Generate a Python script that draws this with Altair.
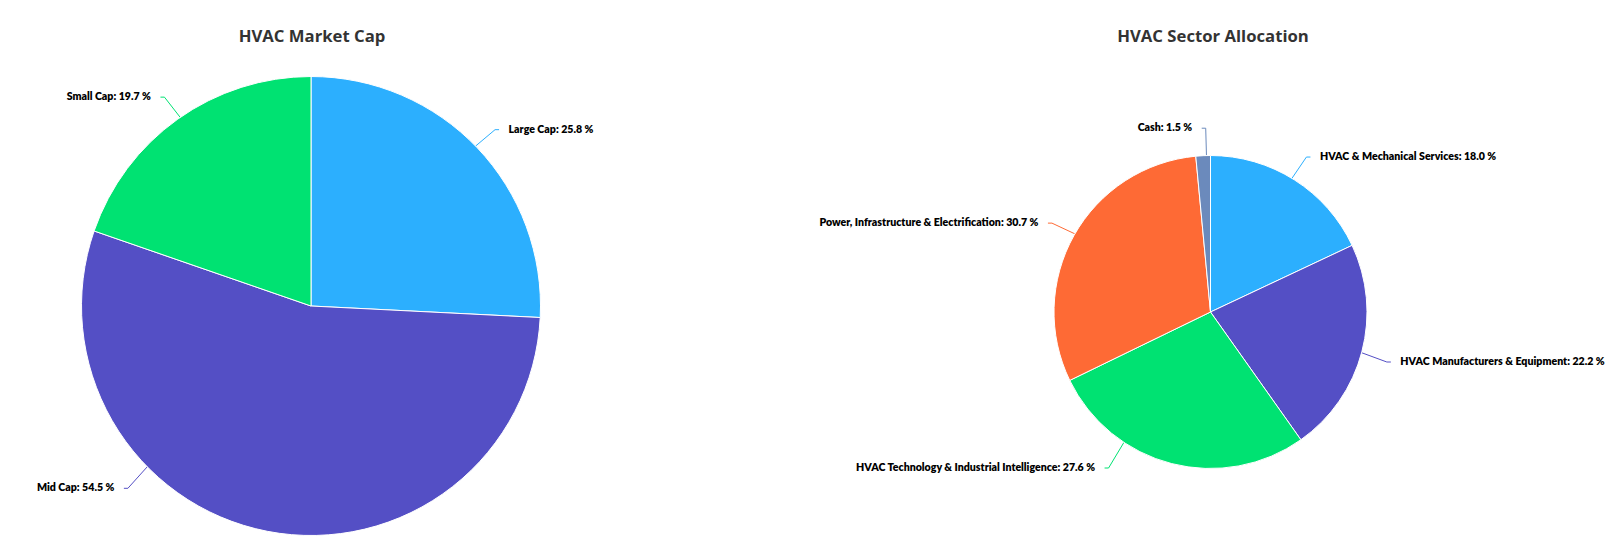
import altair as alt
import numpy as np
import pandas as pd

# ---- data ----
cap_names = ["Large Cap", "Mid Cap", "Small Cap"]
cap_values = [25.8, 54.5, 19.7]
sector_names = [
    "HVAC & Mechanical Services",
    "HVAC Manufacturers & Equipment",
    "HVAC Technology & Industrial Intelligence",
    "Power, Infrastructure & Electrification",
    "Cash",
]
sector_values = [18.0, 22.2, 27.6, 30.7, 1.5]
palette = ["#2caffe", "#544fc5", "#00e272", "#fe6a35", "#6b8abc"]
titles = ["HVAC Market Cap", "HVAC Sector Allocation"]

W, H = 1618, 549
FONT = "Lato"
TITLE_FONT = "Open Sans"

# ---- layout ----
pies = [
    dict(names=cap_names, values=cap_values, cx=311, cy=306, r=229.5, ymax=485.8, tx=312, title=titles[0]),
    dict(names=sector_names, values=sector_values, cx=1210.5, cy=312, r=156.5, ymax=465.5, tx=1213, title=titles[1]),
]
DIST = 30
DY = 2.5
GAP = 9.5


def build(p, pid):
    vals = np.array(p["values"], dtype=float)
    cum = np.cumsum(vals)
    mid = (cum - vals / 2) / vals.sum() * 2 * np.pi
    R = p["r"] + DIST
    slices, lines, labels = [], [], []
    for i, (n, v, a) in enumerate(zip(p["names"], vals, mid)):
        col = palette[i % len(palette)]
        slices.append(dict(name=n, value=v, idx=i, color=col))
        side = 1.0 if np.sin(a) >= 0 else -1.0
        y = p["cy"] - R * np.cos(a)
        y = min(y, p["ymax"])
        dy = y - p["cy"]
        dx = np.sqrt(max(R * R - dy * dy, 0.0))
        x = p["cx"] + side * dx
        xb = x - side * 4
        vx, vy = xb - p["cx"], y - p["cy"]
        L = np.hypot(vx, vy)
        ex, ey = p["cx"] + vx / L * p["r"], p["cy"] + vy / L * p["r"]
        key = f"{pid}-{i}"
        for k, (px, py) in enumerate([(x, y + DY), (xb, y + DY), (ex, ey)]):
            lines.append(dict(key=key, k=k, x=px, y=py, color=col))
        labels.append(dict(
            text=f"{n}: {v:.1f} %",
            x=x + side * GAP,
            y=y + DY,
            side="right" if side > 0 else "left",
        ))
    return pd.DataFrame(slices), lines, labels


xs = alt.Scale(domain=[0, W], range=[0, W])
ys = alt.Scale(domain=[0, H], range=[0, H])

layers = []
all_lines, all_labels = [], []
for pid, p in enumerate(pies):
    sdf, ln, lb = build(p, pid)
    all_lines += ln
    all_labels += lb
    arc = alt.Chart(sdf).mark_arc(
        outerRadius=p["r"], stroke="white", strokeWidth=1
    ).encode(
        theta=alt.Theta("value:Q", stack=True),
        order=alt.Order("idx:Q"),
        color=alt.Color("color:N", scale=None, legend=None),
        x=alt.value(p["cx"]),
        y=alt.value(p["cy"]),
    )
    layers.append(arc)

lines_df = pd.DataFrame(all_lines)
conn = alt.Chart(lines_df).mark_line(strokeWidth=1).encode(
    x=alt.X("x:Q", scale=xs, axis=None),
    y=alt.Y("y:Q", scale=ys, axis=None),
    detail="key:N",
    order="k:Q",
    color=alt.Color("color:N", scale=None, legend=None),
)

lab_df = pd.DataFrame(all_labels)
txt = dict(baseline="middle", font=FONT, fontSize=10.6, fontWeight=800, color="#000000")
lab_left = alt.Chart(lab_df).transform_filter(alt.datum.side == "left").mark_text(
    align="right", **txt
).encode(x=alt.X("x:Q", scale=xs, axis=None), y=alt.Y("y:Q", scale=ys, axis=None), text="text:N")
lab_right = alt.Chart(lab_df).transform_filter(alt.datum.side == "right").mark_text(
    align="left", **txt
).encode(x=alt.X("x:Q", scale=xs, axis=None), y=alt.Y("y:Q", scale=ys, axis=None), text="text:N")

title_df = pd.DataFrame([dict(t=p["title"], x=p["tx"], y=37) for p in pies])
title_layer = alt.Chart(title_df).mark_text(
    align="center", baseline="middle", font=TITLE_FONT, fontSize=16.7, fontWeight="bold", color="#333333"
).encode(x=alt.X("x:Q", scale=xs, axis=None), y=alt.Y("y:Q", scale=ys, axis=None), text="t:N")

chart = alt.layer(conn, *layers, lab_left, lab_right, title_layer).resolve_scale(
    theta="independent"
).properties(
    width=W, height=H, padding=0, autosize="none", background="white"
).configure_view(stroke=None)

chart.save("out.html", embed_options={"renderer": "svg", "actions": False})
